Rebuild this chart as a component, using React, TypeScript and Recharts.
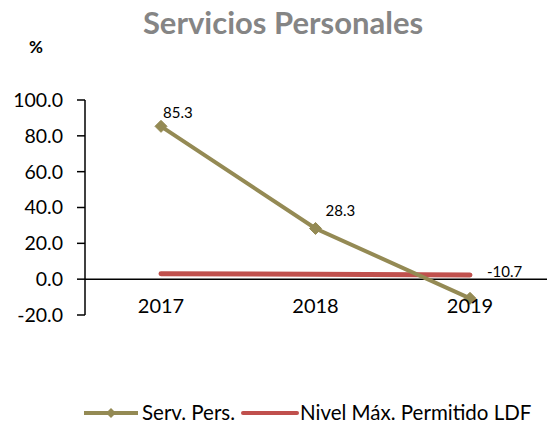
import { LineChart, Line, XAxis, YAxis, ReferenceLine, LabelList } from 'recharts'

const years = ['2017', '2018', '2019']
const servPers = [85.3, 28.3, -10.7]
const nivelMax = [3.0, 2.7, 2.3]
const yTicks = [-20, 0, 20, 40, 60, 80, 100]

const OLIVE = '#948A54'
const RED = '#C0504D'
const FONT = 'Lato, "Open Sans", sans-serif'

const data = years.map((year, i) => ({
    year,
    serv: servPers[i],
    nivel: nivelMax[i],
}))

// label offsets relative to each point
const labelOffsets = [
    { dx: 2, dy: -8 },
    { dx: 10, dy: -12 },
    { dx: 17, dy: -21 },
]

const Diamond = (props: any) => {
    const { cx, cy } = props
    if (cx == null || cy == null) return null
    const s = 6
    return (
        <path
            d={`M${cx},${cy - s} L${cx + s},${cy} L${cx},${cy + s} L${cx - s},${cy} Z`}
            fill={OLIVE}
            stroke={OLIVE}
        />
    )
}

const ValueLabel = (props: any) => {
    const { x, y, value, index } = props
    const off = labelOffsets[index] ?? { dx: 8, dy: -10 }
    return (
        <text x={x + off.dx} y={y + off.dy} fontSize={15} fontFamily={FONT} fill="#000">
            {Number(value).toFixed(1)}
        </text>
    )
}

// x tick labels sit just under the zero line, not at the plot bottom
const YearTick = (props: any) => {
    const { x, y, payload } = props
    return (
        <text x={x} y={y - 10} textAnchor="middle" fontSize={20} fontFamily={FONT} fill="#000">
            {payload.value}
        </text>
    )
}

const Overlay = () => (
    <svg width={547} height={427} style={{ position: 'absolute', left: 0, top: 0, pointerEvents: 'none' }}>
        <text x={283} y={34} textAnchor="middle" fontSize={31} fontWeight={700} fontFamily={FONT} fill="#858585">
            Servicios Personales
        </text>
        <text x={29} y={53} fontSize={17} fontWeight={700} fontFamily={FONT} fill="#000">%</text>
        <line x1={84} y1={413} x2={138} y2={413} stroke={OLIVE} strokeWidth={4} />
        <path d="M111,408 L116,413 L111,418 L106,413 Z" fill={OLIVE} />
        <text x={142} y={420} fontSize={20.5} fontFamily={FONT} fill="#000">Serv. Pers.</text>
        <line x1={243} y1={413} x2={297} y2={413} stroke={RED} strokeWidth={4} strokeLinecap="round" />
        <text x={300} y={420} fontSize={20.5} fontFamily={FONT} fill="#000">Nivel Máx. Permitido LDF</text>
    </svg>
)

export default function App() {
    return (
        <div style={{ position: 'absolute', left: 0, top: 0, width: 547, height: 427, background: '#fff', fontFamily: FONT }}>
            <LineChart
                width={547}
                height={427}
                data={data}
                margin={{ top: 100, right: 0, left: 25, bottom: 82 }}
            >
                <XAxis
                    dataKey="year"
                    axisLine={false}
                    tickLine={false}
                    tick={<YearTick />}
                    height={30}
                    padding={{ left: 76, right: 77 }}
                    interval={0}
                />
                <YAxis
                    domain={[-20, 100]}
                    ticks={yTicks}
                    tickFormatter={(v: number) => v.toFixed(1)}
                    axisLine={{ stroke: '#000', strokeWidth: 1.5 }}
                    tickLine={{ stroke: '#000', strokeWidth: 1.5 }}
                    tickSize={8}
                    tickMargin={14}
                    tick={{ fontSize: 19.5, fontFamily: FONT, fill: '#000' }}
                    width={60}
                    interval={0}
                />
                <ReferenceLine y={0} stroke="#000" strokeWidth={1.5} />
                <Line
                    dataKey="nivel"
                    stroke={RED}
                    strokeWidth={5}
                    strokeLinecap="round"
                    dot={false}
                    isAnimationActive={false}
                />
                <Line
                    dataKey="serv"
                    stroke={OLIVE}
                    strokeWidth={4}
                    dot={<Diamond />}
                    isAnimationActive={false}
                >
                    <LabelList dataKey="serv" content={<ValueLabel />} />
                </Line>
            </LineChart>
            <Overlay />
        </div>
    )
}
